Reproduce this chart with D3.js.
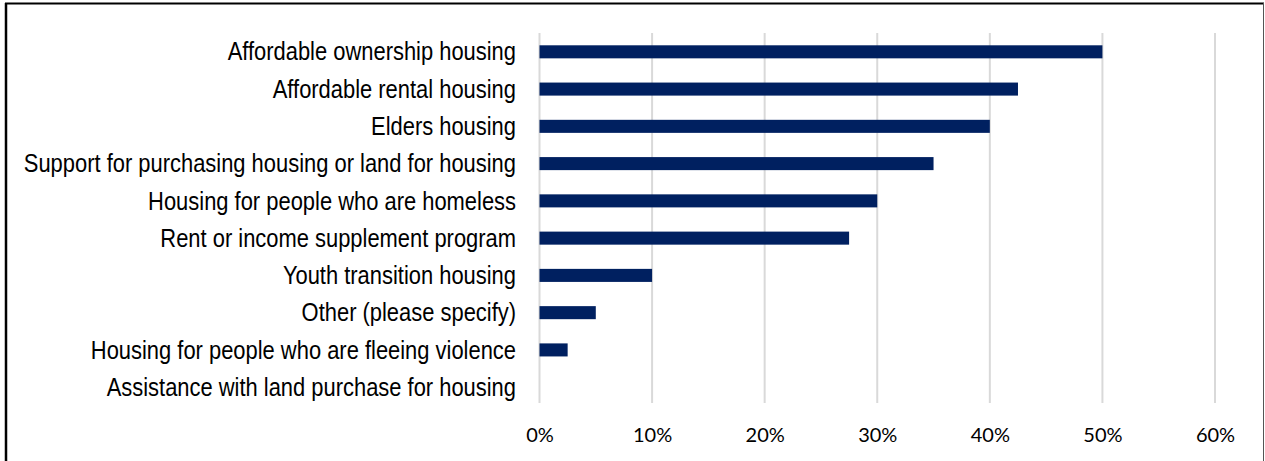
<!DOCTYPE html>
<html><head><meta charset="utf-8">
<script src="https://cdn.jsdelivr.net/npm/d3@7"></script>
<style>
html,body{margin:0;padding:0;background:#fff;}
svg{display:block;}
</style></head>
<body>
<svg id="chart" width="1265" height="461"></svg>
<script>
const categories = [
  "Affordable ownership housing",
  "Affordable rental housing",
  "Elders housing",
  "Support for purchasing housing or land for housing",
  "Housing for people who are homeless",
  "Rent or income supplement program",
  "Youth transition housing",
  "Other (please specify)",
  "Housing for people who are fleeing violence",
  "Assistance with land purchase for housing"
];
const values = [0.50, 0.425, 0.40, 0.35, 0.30, 0.275, 0.10, 0.05, 0.025, 0.0];
const tickValues = [0, 0.1, 0.2, 0.3, 0.4, 0.5, 0.6];

const svg = d3.select("#chart");
const W = 1265, H = 461;

// frame
svg.append("line").attr("x1",6).attr("x2",6).attr("y1",3).attr("y2",H).attr("stroke","#000").attr("stroke-width",2.5);
svg.append("line").attr("x1",5).attr("x2",1264).attr("y1",3.5).attr("y2",3.5).attr("stroke","#000").attr("stroke-width",2);
svg.append("line").attr("x1",1263.5).attr("x2",1263.5).attr("y1",3).attr("y2",H).attr("stroke","#555").attr("stroke-width",1);

const x = d3.scaleLinear().domain([0, 0.6]).range([539.5, 1215]);
const y = d3.scaleBand().domain(categories).range([33, 406]).paddingInner(0.65).paddingOuter(0.33);

// gridlines
svg.append("g").selectAll("line").data(tickValues).join("line")
  .attr("x1", d => x(d)).attr("x2", d => x(d))
  .attr("y1", 33).attr("y2", 403)
  .attr("stroke", "#d9d9d9").attr("stroke-width", 2);

// bars
svg.append("g").selectAll("rect").data(values).join("rect")
  .attr("x", x(0))
  .attr("y", (d,i) => y(categories[i]))
  .attr("width", d => x(d) - x(0))
  .attr("height", y.bandwidth())
  .attr("fill", "#002060");

// category labels (condensed sans)
svg.append("g").selectAll("text").data(categories).join("text")
  .attr("transform", d => `translate(516,${y(d) + y.bandwidth()/2}) scale(0.86,1)`)
  .attr("dy", "0.34em")
  .attr("text-anchor", "end")
  .attr("font-family", "'Liberation Sans', Arial, sans-serif")
  .attr("font-size", 25.5)
  .attr("fill", "#000")
  .text(d => d);

// x axis
const xAxis = d3.axisBottom(x).tickValues(tickValues).tickFormat(d3.format(".0%")).tickSize(0).tickPadding(0);
const gx = svg.append("g").attr("transform", "translate(0,428)").call(xAxis);
gx.select(".domain").remove();
gx.selectAll("text")
  .attr("font-family", "Lato, 'Open Sans', sans-serif")
  .attr("font-size", 20)
  .attr("fill", "#000");
</script>
</body></html>
